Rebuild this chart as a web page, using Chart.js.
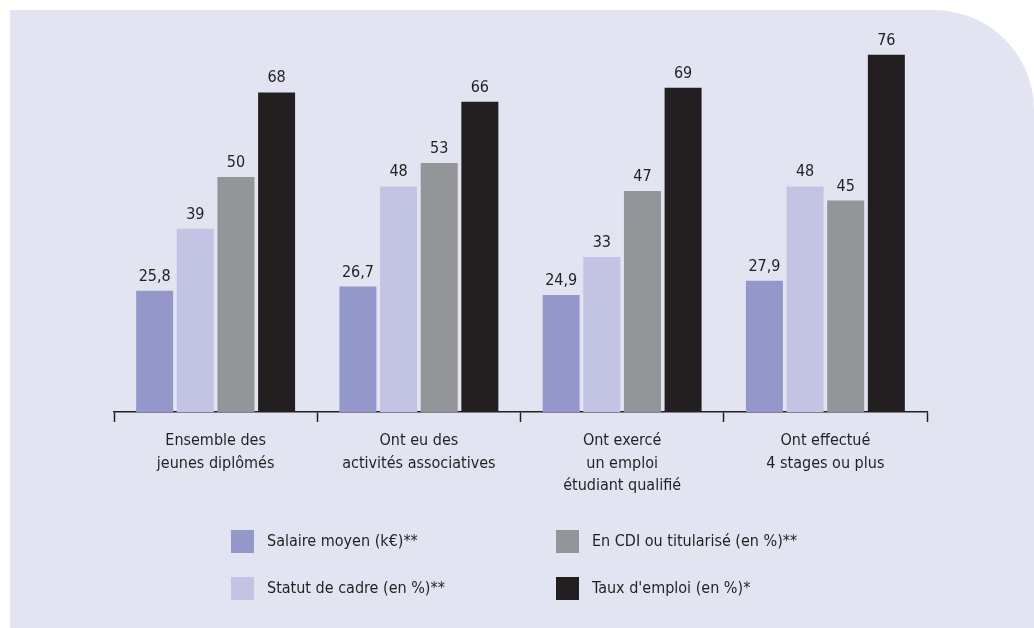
<!DOCTYPE html>
<html>
<head>
<meta charset="utf-8">
<script src="https://cdn.jsdelivr.net/npm/chart.js@4.4.1/dist/chart.umd.min.js"></script>
<style>
  html, body { margin: 0; padding: 0; background: #ffffff; }
  #wrap { position: relative; width: 1034px; height: 628px; }
  canvas { display: block; }
</style>
</head>
<body>
<div id="wrap"><canvas id="c" width="1034" height="628"></canvas></div>
<script>
const categories = [
  ["Ensemble des", "jeunes diplômés"],
  ["Ont eu des", "activités associatives"],
  ["Ont exercé", "un emploi", "étudiant qualifié"],
  ["Ont effectué", "4 stages ou plus"]
];
const seriesNames = [
  "Salaire moyen (k€)**",
  "Statut de cadre (en %)**",
  "En CDI ou titularisé (en %)**",
  "Taux d'emploi (en %)*"
];
const salaire = [25.8, 26.7, 24.9, 27.9];
const cadre = [39, 48, 33, 48];
const cdi = [50, 53, 47, 45];
const emploi = [68, 66, 69, 76];
const seriesColors = ["#9497ca", "#c3c3e3", "#939598", "#231f20"];

const FONT = '"DejaVu Sans Condensed", "Liberation Sans Narrow", sans-serif';
const TEXT = "#231f20";
const PANEL = "#e3e4f2";

const panelPlugin = {
  id: 'panel',
  beforeDraw(chart) {
    const ctx = chart.ctx;
    const W = chart.width, H = chart.height;
    ctx.save();
    ctx.fillStyle = "#ffffff";
    ctx.fillRect(0, 0, W, H);
    const x0 = 10, y0 = 10, x1 = W, y1 = H, r = 100;
    ctx.beginPath();
    ctx.moveTo(x0, y0);
    ctx.lineTo(x1 - r, y0);
    ctx.arcTo(x1, y0, x1, y0 + r, r);
    ctx.lineTo(x1, y1);
    ctx.lineTo(x0, y1);
    ctx.closePath();
    ctx.fillStyle = PANEL;
    ctx.fill();
    ctx.restore();
  }
};

const valueLabels = {
  id: 'valueLabels',
  afterDatasetsDraw(chart) {
    const ctx = chart.ctx;
    ctx.save();
    ctx.font = '16px ' + FONT;
    ctx.fillStyle = TEXT;
    ctx.textAlign = 'center';
    ctx.textBaseline = 'alphabetic';
    chart.data.datasets.forEach((ds, di) => {
      const meta = chart.getDatasetMeta(di);
      meta.data.forEach((bar, i) => {
        const v = ds.data[i];
        const s = String(v).replace('.', ',');
        ctx.fillText(s, bar.x, bar.y - 10);
      });
    });
    ctx.restore();
  }
};

const gridLegend = {
  id: 'gridLegend',
  afterDraw(chart) {
    const ctx = chart.ctx;
    ctx.save();
    ctx.font = '16px ' + FONT;
    ctx.textBaseline = 'middle';
    ctx.textAlign = 'left';
    chart.data.datasets.forEach((ds, i) => {
      const col = Math.floor(i / 2), row = i % 2;
      const x = 231 + col * 325;
      const y = 530 + row * 47;
      ctx.fillStyle = ds.backgroundColor;
      ctx.fillRect(x, y, 23, 23);
      ctx.fillStyle = TEXT;
      ctx.fillText(ds.label, x + 36, y + 12);
    });
    ctx.restore();
  }
};

const datasets = [salaire, cadre, cdi, emploi].map((d, i) => ({
  label: seriesNames[i],
  data: d,
  backgroundColor: seriesColors[i],
  borderWidth: 0,
  categoryPercentage: 0.8,
  barPercentage: 0.91
}));

new Chart(document.getElementById('c'), {
  type: 'bar',
  data: { labels: categories, datasets },
  options: {
    responsive: false,
    animation: false,
    devicePixelRatio: 1,
    layout: { padding: { left: 114, right: 107, top: 36, bottom: 116 } },
    plugins: { legend: { display: false }, tooltip: { enabled: false } },
    scales: {
      y: { display: false, min: 0, max: 80 },
      x: {
        offset: true,
        grid: {
          display: true,
          offset: true,
          drawOnChartArea: false,
          drawTicks: true,
          tickLength: 10,
          tickWidth: 1.5,
          tickColor: TEXT
        },
        border: { display: true, color: TEXT, width: 1.5 },
        ticks: {
          color: TEXT,
          padding: 8,
          maxRotation: 0,
          autoSkip: false,
          font: { family: FONT, size: 16, lineHeight: 1.4 }
        },
        afterFit(scale) { scale.height = 100; }
      }
    }
  },
  plugins: [panelPlugin, valueLabels, gridLegend]
});
</script>
</body>
</html>
